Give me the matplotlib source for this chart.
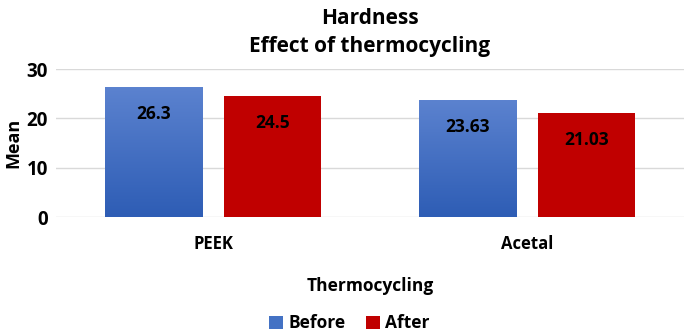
import numpy as np
import matplotlib.pyplot as plt
from matplotlib.colors import LinearSegmentedColormap

plt.rcParams['font.family'] = ['Open Sans', 'DejaVu Sans']
plt.rcParams['font.weight'] = 'bold'

materials = ["PEEK", "Acetal"]
before = [26.3, 23.63]
after = [24.5, 21.03]
before_labels = ["26.3", "23.63"]
after_labels = ["24.5", "21.03"]

fig = plt.figure(figsize=(6.85, 3.32), dpi=100)
ax = fig.add_axes([0.082, 0.346, 0.916, 0.446])

x = np.arange(len(materials))
w = 0.31
off = 0.19

b1 = ax.bar(x - off, before, w, color="#4472C4", zorder=2, label="Before")
b2 = ax.bar(x + off, after, w, color="#C00000", zorder=2, label="After")

# gradient on the blue bars
cmap = LinearSegmentedColormap.from_list("blu", ["#2E5DB5", "#5B82CF"])
grad = np.linspace(0, 1, 100).reshape(-1, 1)
for bar in b1:
    x0 = bar.get_x()
    h = bar.get_height()
    im = ax.imshow(grad, extent=[x0, x0 + bar.get_width(), 0, h], origin="lower",
                   aspect="auto", cmap=cmap, zorder=3)
    im.set_clip_path(bar)

for bars, labs in [(b1, before_labels), (b2, after_labels)]:
    for bar, lab in zip(bars, labs):
        ax.annotate(lab, (bar.get_x() + bar.get_width() / 2, bar.get_height()),
                    xytext=(0, -19), textcoords="offset points",
                    ha="center", va="center", fontsize=12.5, fontweight="bold", zorder=4)

ax.set_xlim(-0.5, 1.5)
ax.set_ylim(0, 30)
ax.set_yticks([0, 10, 20, 30])
ax.set_xticks(x)
ax.set_xticklabels(materials, fontsize=12, fontweight="bold")
ax.tick_params(axis="y", labelsize=13.5, length=0, pad=6)
ax.tick_params(axis="x", length=0, pad=13)
ax.grid(axis="y", color="#D9D9D9", linewidth=1, zorder=0)
for s in ax.spines.values():
    s.set_visible(False)

ax.set_ylabel("Mean", fontsize=13, fontweight="bold", labelpad=3)
ax.set_xlabel("Thermocycling", fontsize=12.5, fontweight="bold", labelpad=17)
ax.set_title("Hardness\nEffect of thermocycling", fontsize=15, fontweight="bold",
             linespacing=1.45, pad=12)

fig.legend(handles=[b1, b2], labels=["Before", "After"], loc="lower center",
           bbox_to_anchor=(0.51, -0.048), ncol=2, frameon=False, fontsize=12.5,
           handlelength=0.8, handleheight=0.8, columnspacing=1.2, handletextpad=0.3)

fig.savefig("out.png", dpi=100)
